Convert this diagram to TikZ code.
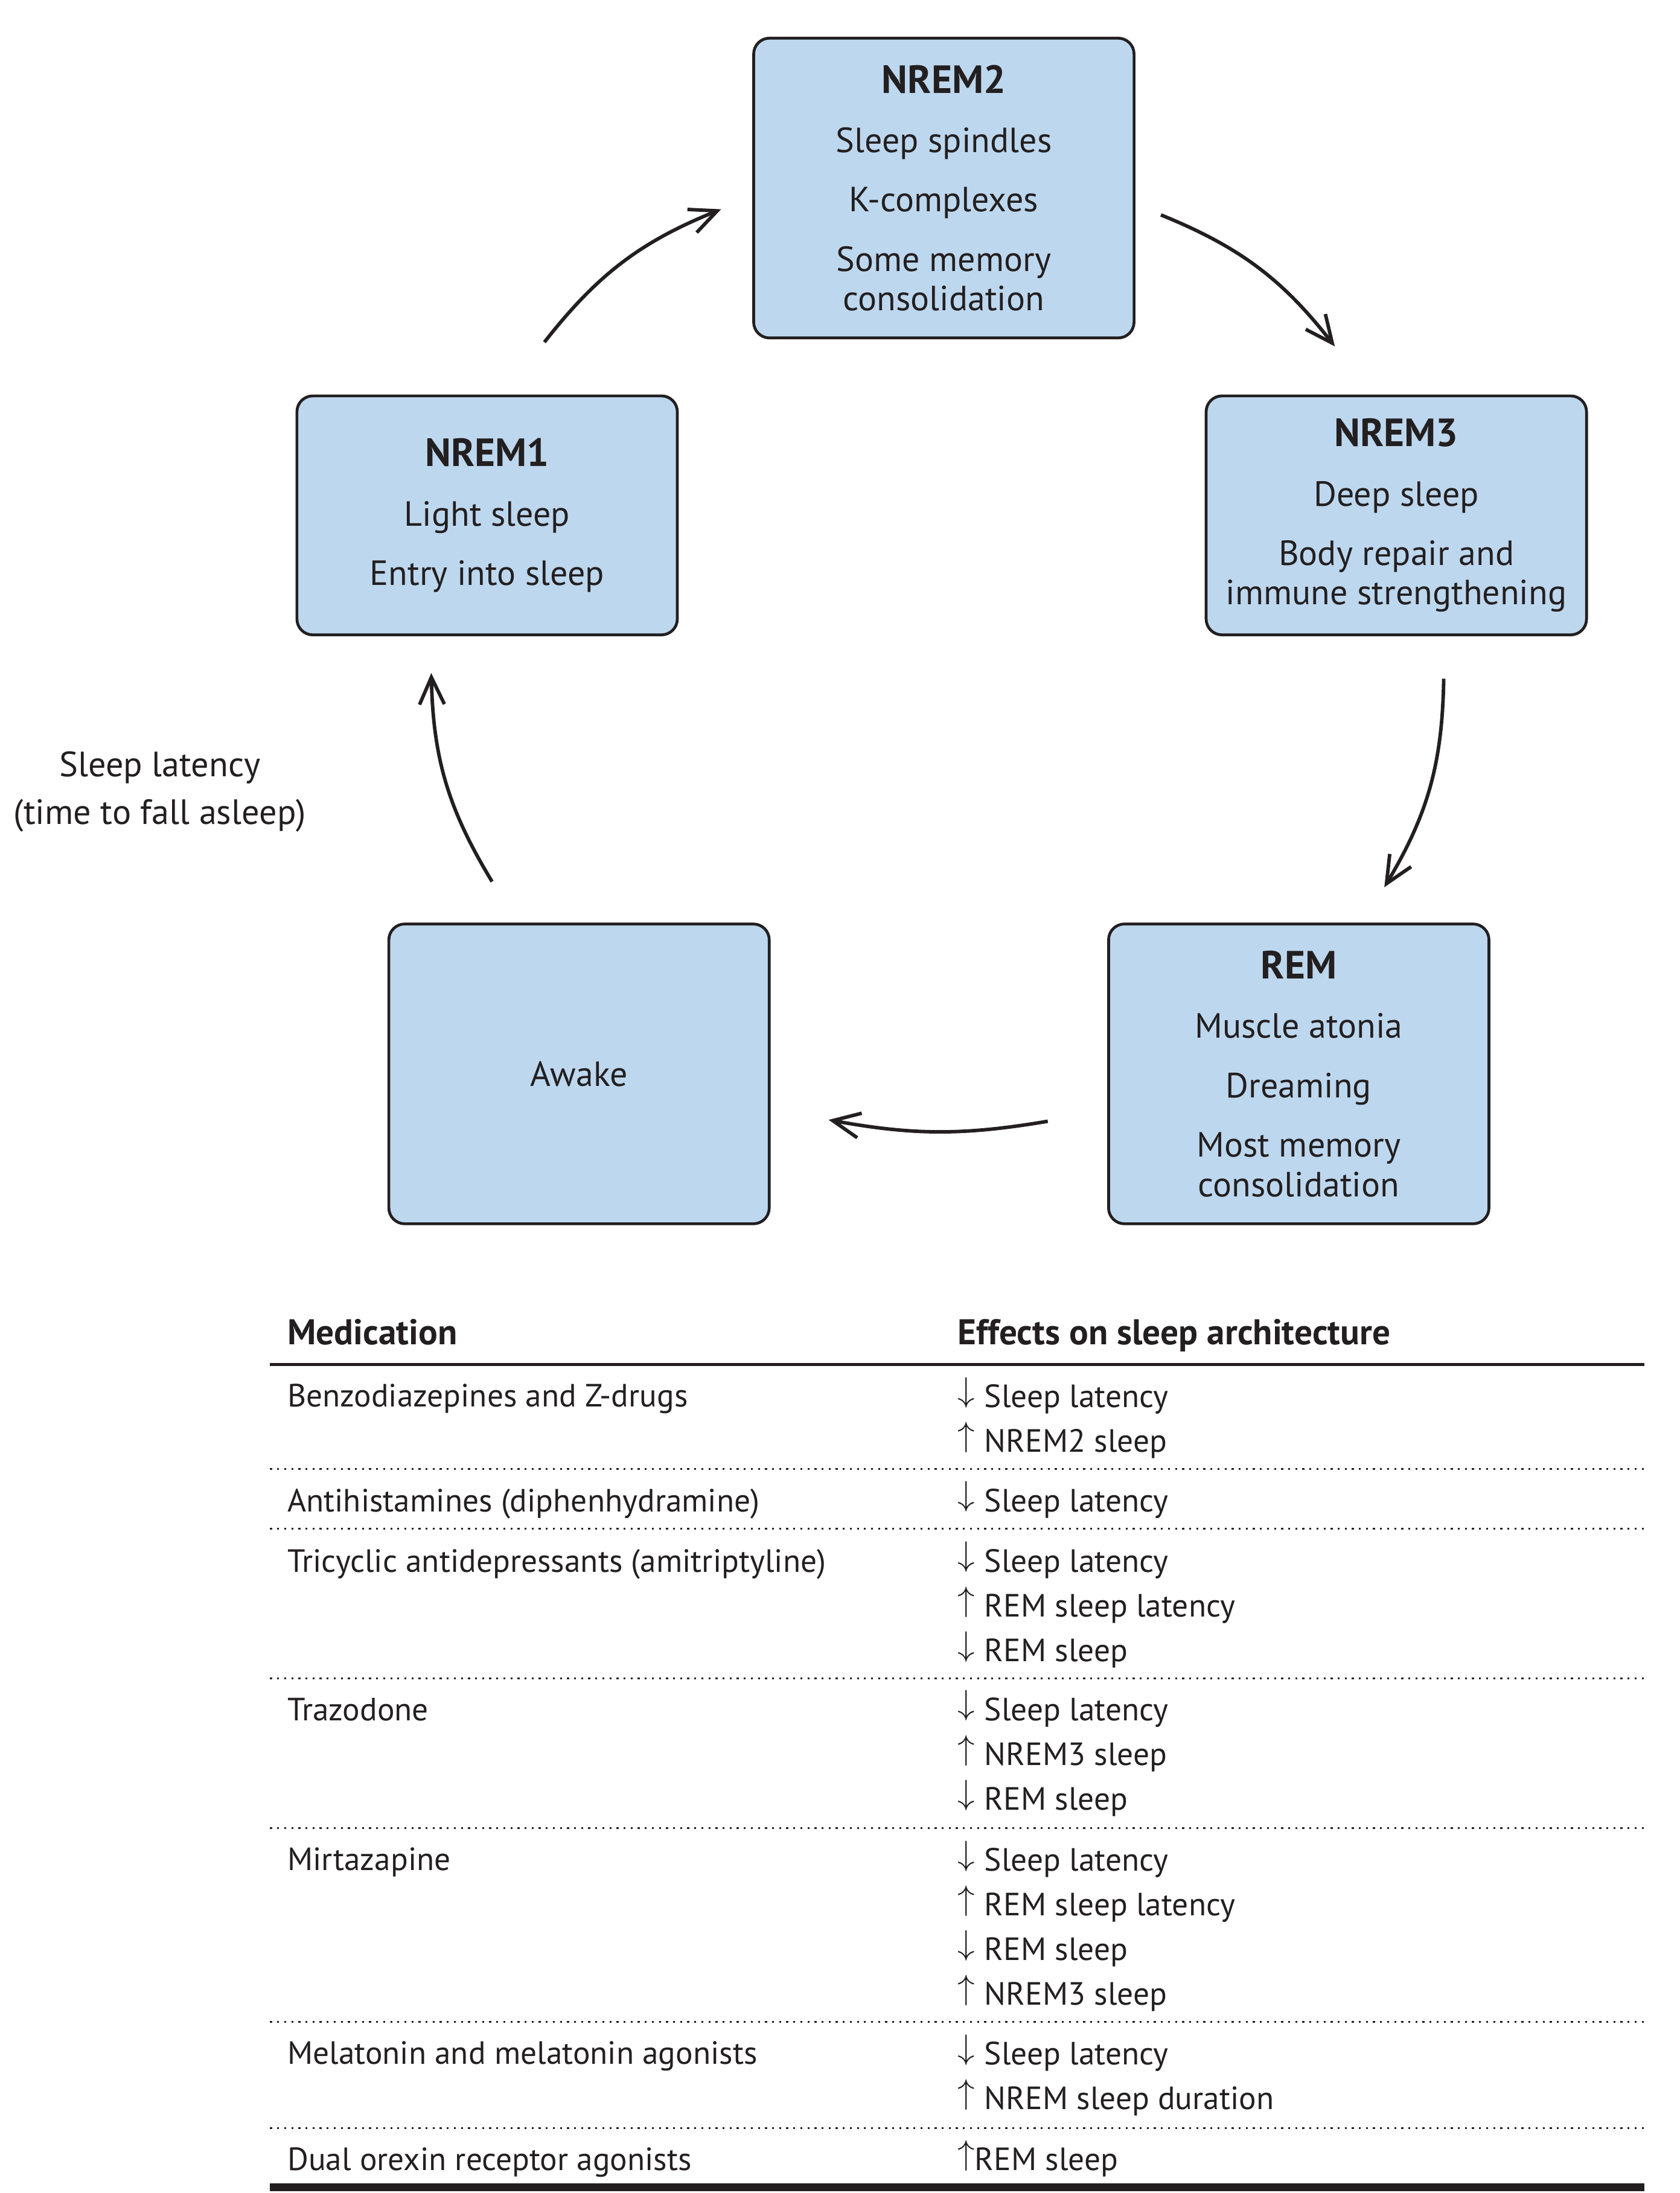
\documentclass[tikz,border=0pt]{standalone}
\usepackage{fontspec}
\setmainfont{PT Sans}
\usepackage{amsmath, amssymb}
\usetikzlibrary{arrows.meta, calc}

\definecolor{stageblue}{RGB}{189,215,238}
\definecolor{ink}{RGB}{35,31,32}
\newcommand{\stagegap}{3.5mm}
\newcommand{\stagetitle}[1]{{\fontsize{19.8}{19.9}\selectfont\bfseries #1}}
\newcommand{\decr}{\raisebox{0.19em}{$\downarrow$}\kern0.3em}
\newcommand{\incr}{\raisebox{0.19em}{$\uparrow$}\kern0.3em}

\begin{document}
\begin{tikzpicture}[x=0.25mm, y=-0.25mm,
            stage/.style={draw=ink, line width=0.5mm, fill=stageblue, rounded corners=2.8mm,
                minimum width=67.25mm, align=center, text=ink, inner sep=0pt,
                font=\fontsize{17.6}{19.9}\selectfont},
            cyc/.style={draw=ink, line width=0.62mm, -{Straight Barb[length=4.8mm, width=4.4mm, line join=miter]}},
            cell/.style={anchor=base west, align=left, inner sep=0pt, text=ink,
                font=\fontsize{16.2}{22.5}\selectfont},
            head/.style={cell, font=\fontsize{18}{22.5}\selectfont\bfseries},
            sep/.style={draw=ink, line width=0.3mm, dash pattern=on 0.35mm off 0.9mm}]
            \useasboundingbox (0,0) rectangle (1187.7,1551);

            % sleep stages
            \node[stage, minimum height=53mm] (nrem2) at (667.5,133) {\stagetitle{NREM2}\\[\stagegap] Sleep spindles\\[\stagegap] K-complexes\\[\stagegap] Some memory\\ consolidation};
            \node[stage, minimum height=42.25mm] (nrem1) at (344.5,364.5) {\stagetitle{NREM1}\\[\stagegap] Light sleep\\[\stagegap] Entry into sleep};
            \node[stage, minimum height=42.25mm] (nrem3) at (987.5,364.5) {\stagetitle{NREM3}\\[\stagegap] Deep sleep\\[\stagegap] Body repair and\\ immune strengthening};
            \node[stage, minimum height=53mm] (awake) at (409.5,759.5) {Awake};
            \node[stage, minimum height=53mm] (rem) at (918.5,759.5) {\stagetitle{REM}\\[\stagegap] Muscle atonia\\[\stagegap] Dreaming\\[\stagegap] Most memory\\ consolidation};

            \draw[cyc] ($(nrem1.north)+(40.5,-37)$) to[bend left=15] ($(nrem2.west)+(-22,15)$);
            \draw[cyc] ($(nrem2.east)+(18,19)$) to[bend left=15] ($(nrem3.north)+(-43.5,-34)$);
            \draw[cyc] ($(nrem3.south)+(33.5,30)$) to[bend left=15] ($(rem.north)+(60.5,-25)$);
            \draw[cyc] ($(rem.west)+(-42,33.5)$) to[bend left=10] ($(awake.east)+(41,32.5)$);
            \draw[cyc] ($(awake.north)+(-61.5,-29)$) to[bend left=15] ($(nrem1.south)+(-39.5,26)$);

            % notation
            \node[align=center, text=ink, font=\fontsize{17.7}{24}\selectfont] (latency) at (113,560) {Sleep latency\\(time to fall asleep)};

            % table
            \node[head] (medhead) at (203,951) {Medication};
            \node[head] (effhead) at (677,951) {Effects on sleep architecture};
            \draw[ink, line width=0.5mm] (191,965) -- (1163,965);

            \node[cell] (med1) at (203,995) {Benzodiazepines and Z-drugs};
            \node[cell] (eff1) at (677,1027) {\decr Sleep latency\\ \incr NREM2 sleep};
            \draw[sep] (191,1039) -- (1163,1039);

            \node[cell] (med2) at (203,1069) {Antihistamines (diphenhydramine)};
            \node[cell] (eff2) at (677,1069) {\decr Sleep latency};
            \draw[sep] (191,1081) -- (1163,1081);

            \node[cell] (med3) at (203,1112) {Tricyclic antidepressants (amitriptyline)};
            \node[cell] (eff3) at (677,1175) {\decr Sleep latency\\ \incr REM sleep latency\\ \decr REM sleep};
            \draw[sep] (191,1187) -- (1163,1187);

            \node[cell] (med4) at (203,1217) {Trazodone};
            \node[cell] (eff4) at (677,1280) {\decr Sleep latency\\ \incr NREM3 sleep\\ \decr REM sleep};
            \draw[sep] (191,1293) -- (1163,1293);

            \node[cell] (med5) at (203,1323) {Mirtazapine};
            \node[cell] (eff5) at (677,1418) {\decr Sleep latency\\ \incr REM sleep latency\\ \decr REM sleep\\ \incr NREM3 sleep};
            \draw[sep] (191,1430) -- (1163,1430);

            \node[cell] (med6) at (203,1460) {Melatonin and melatonin agonists};
            \node[cell] (eff6) at (677,1492) {\decr Sleep latency\\ \incr NREM sleep duration};
            \draw[sep] (191,1505) -- (1163,1505);

            \node[cell] (med7) at (203,1535) {Dual orexin receptor agonists};
            \node[cell] (eff7) at (677,1535) {\raisebox{0.19em}{$\uparrow$}REM sleep};
            \draw[ink, line width=1.4mm] (191,1547) -- (1163,1547);
        \end{tikzpicture}
\end{document}
